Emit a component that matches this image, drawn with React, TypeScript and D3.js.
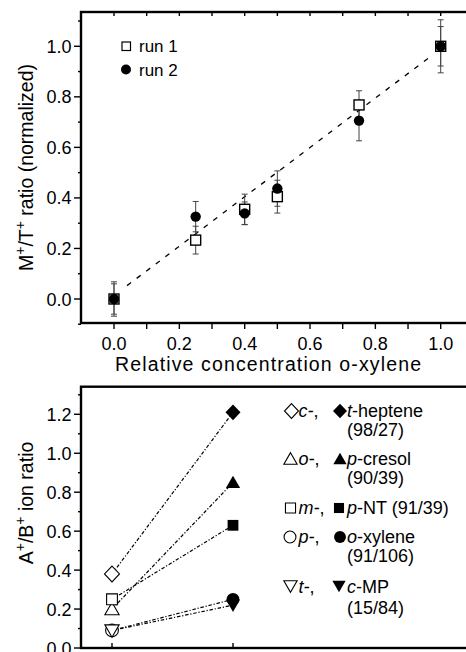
import React from "react";
import * as d3 from "d3";

// ---------- Top panel data ----------
const concX = [0, 0.25, 0.4, 0.5, 0.75, 1.0];
const run1Y = [0, 0.233, 0.355, 0.405, 0.768, 1.0];
const run1Err = [0.068, 0.055, 0.06, 0.065, 0.056, 0.078];
const run2Y = [0, 0.326, 0.339, 0.437, 0.706, 1.0];
const run2Err = [0.06, 0.06, 0.045, 0.07, 0.08, 0.105];
const fitLine = [
  { x: 0.04, y: 0.053 },
  { x: 0.965, y: 0.956 },
];
const topXTicks = [0, 0.2, 0.4, 0.6, 0.8, 1.0];
const topYTicks = [0, 0.2, 0.4, 0.6, 0.8, 1.0];

// ---------- Bottom panel data ----------
const groups = ["isomer", "target"];
const compounds = ["t-heptene", "p-cresol", "p-NT", "o-xylene", "c-MP"];
const shapes = ["diamond", "triangle", "square", "circle", "downtriangle"];
const isomerValues = [0.38, 0.2, 0.25, 0.09, 0.09];
const targetValues = [1.21, 0.85, 0.63, 0.25, 0.22];
const bottomYTicks = [0, 0.2, 0.4, 0.6, 0.8, 1.0, 1.2];
const legendPrefix = ["c", "o", "m", "p", "t"];
const legendMain = ["t", "p", "p", "o", "c"];
const legendRest = ["-heptene", "-cresol", "-NT (91/39)", "-xylene", "-MP"];
const legendSecond = ["(98/27)", "(90/39)", "", "(91/106)", "(15/84)"];

const FONT = "'Liberation Sans', Arial, Helvetica, sans-serif";

function shapePath(type: string, cx: number, cy: number, s: number): string {
  const h = s / 2;
  switch (type) {
    case "diamond":
      return `M${cx},${cy - h * 1.05}L${cx + h},${cy}L${cx},${cy + h * 1.05}L${cx - h},${cy}Z`;
    case "square":
      return `M${cx - h * 0.72},${cy - h * 0.72}h${h * 1.44}v${h * 1.44}h${-h * 1.44}Z`;
    case "triangle":
      return `M${cx},${cy - h * 0.9}L${cx + h * 0.95},${cy + h * 0.75}L${cx - h * 0.95},${cy + h * 0.75}Z`;
    case "downtriangle":
      return `M${cx},${cy + h * 0.9}L${cx + h * 0.95},${cy - h * 0.75}L${cx - h * 0.95},${cy - h * 0.75}Z`;
    default: {
      const r = h * 0.85;
      return `M${cx - r},${cy}a${r},${r} 0 1,0 ${2 * r},0a${r},${r} 0 1,0 ${-2 * r},0Z`;
    }
  }
}

export default function App() {
  // ---- Top scales ----
  const xT = d3.scaleLinear().domain([0, 1]).range([114, 440.7]);
  const yT = d3.scaleLinear().domain([0, 1]).range([299, 46.3]);
  const topFrame = { left: 81, top: 12, right: 490, bottom: 323 };
  const xMinor = d3.range(0, 11).map((i) => i / 10);
  const yMinorT = d3.range(-1, 12).map((i) => i / 10);

  const line = d3
    .line<{ x: number; y: number }>()
    .x((d) => xT(d.x))
    .y((d) => yT(d.y));

  // ---- Bottom scales ----
  const xB = d3.scalePoint<string>().domain(groups).range([112, 233]);
  const yB = d3.scaleLinear().domain([0, 1.2]).range([648, 414.3]);
  const botFrame = { left: 81, top: 386.7, right: 490, bottom: 648 };
  const yMinorB = d3.range(1, 14, 2).map((i) => i / 10);

  const legendRows = [
    { sym: 411, base: 417, base2: 436, ox: 291.5, fx: 340 },
    { sym: 459, base: 465, base2: 484, ox: 290.5, fx: 340 },
    { sym: 508, base: 514, base2: 0, ox: 290.5, fx: 339 },
    { sym: 537, base: 543, base2: 562, ox: 290, fx: 340 },
    { sym: 586, base: 593, base2: 614, ox: 290.5, fx: 339 },
  ];

  return (
    <svg
      width={466}
      height={652}
      style={{ position: "absolute", left: 0, top: 0, background: "#fff" }}
      fontFamily={FONT}
    >
      <rect x={0} y={0} width={466} height={652} fill="#fff" />
      {/* ================= TOP PANEL ================= */}
      <g>
        {/* dashed fit line */}
        <path d={line(fitLine) || ""} fill="none" stroke="#000" strokeWidth={1.3} strokeDasharray="5,7" />
        {/* error bars */}
        {concX.map((x, i) => (
          <g key={"e1" + i} stroke="#444" strokeWidth={1}>
            <line x1={xT(x)} x2={xT(x)} y1={yT(run1Y[i] - run1Err[i])} y2={yT(run1Y[i] + run1Err[i])} />
            <line x1={xT(x) - 3} x2={xT(x) + 3} y1={yT(run1Y[i] - run1Err[i])} y2={yT(run1Y[i] - run1Err[i])} />
            <line x1={xT(x) - 3} x2={xT(x) + 3} y1={yT(run1Y[i] + run1Err[i])} y2={yT(run1Y[i] + run1Err[i])} />
          </g>
        ))}
        {concX.map((x, i) => (
          <g key={"e2" + i} stroke="#444" strokeWidth={1}>
            <line x1={xT(x)} x2={xT(x)} y1={yT(run2Y[i] - run2Err[i])} y2={yT(run2Y[i] + run2Err[i])} />
            <line x1={xT(x) - 3} x2={xT(x) + 3} y1={yT(run2Y[i] - run2Err[i])} y2={yT(run2Y[i] - run2Err[i])} />
            <line x1={xT(x) - 3} x2={xT(x) + 3} y1={yT(run2Y[i] + run2Err[i])} y2={yT(run2Y[i] + run2Err[i])} />
          </g>
        ))}
        {/* run1 squares */}
        {concX.map((x, i) => (
          <rect key={"s" + i} x={xT(x) - 5} y={yT(run1Y[i]) - 5} width={10} height={10} fill="#fff" stroke="#000" strokeWidth={1.4} />
        ))}
        {/* run2 circles */}
        {concX.map((x, i) => (
          <circle key={"c" + i} cx={xT(x)} cy={yT(run2Y[i])} r={5.2} fill="#000" />
        ))}
        {/* frame */}
        <rect
          x={topFrame.left}
          y={topFrame.top}
          width={topFrame.right - topFrame.left}
          height={topFrame.bottom - topFrame.top}
          fill="none"
          stroke="#000"
          strokeWidth={2.4}
        />
        {/* bottom ticks */}
        {xMinor.map((t) => (
          <line key={"bx" + t} x1={xT(t)} x2={xT(t)} y1={topFrame.bottom} y2={topFrame.bottom + 6} stroke="#000" strokeWidth={1.4} />
        ))}
        {/* top ticks (inward) */}
        {xMinor.map((t) => (
          <line key={"tx" + t} x1={xT(t)} x2={xT(t)} y1={topFrame.top} y2={topFrame.top + 4} stroke="#000" strokeWidth={1.4} />
        ))}
        {/* left ticks */}
        {yMinorT.map((t) => {
          const major = Math.abs(Math.round(t * 10)) % 2 === 0;
          return (
            <line
              key={"ly" + t}
              x1={topFrame.left - (major ? 7 : 3)}
              x2={topFrame.left}
              y1={yT(t)}
              y2={yT(t)}
              stroke="#000"
              strokeWidth={1.4}
            />
          );
        })}
        {/* tick labels */}
        {topYTicks.map((t) => (
          <text key={"yl" + t} x={71.5} y={yT(t) + 6.5} textAnchor="end" fontSize={18} fill="#000">
            {d3.format(".1f")(t)}
          </text>
        ))}
        {topXTicks.map((t) => (
          <text key={"xl" + t} x={xT(t)} y={349.5} textAnchor="middle" fontSize={18} fill="#000">
            {d3.format(".1f")(t)}
          </text>
        ))}
        {/* axis titles */}
        <text x={268} y={371} textAnchor="middle" fontSize={19.5} fill="#000" textLength={306} lengthAdjust="spacing">
          Relative concentration o-xylene
        </text>
        <text transform="translate(33,167.5) rotate(-90)" textAnchor="middle" fontSize={19.5} fill="#000">
          M<tspan fontSize={14} dy={-8}>+</tspan>
          <tspan dy={8}>/T</tspan>
          <tspan fontSize={14} dy={-8}>+</tspan>
          <tspan dy={8}> ratio (normalized)</tspan>
        </text>
        {/* legend */}
        <rect x={122} y={42} width={8.5} height={8.5} fill="#fff" stroke="#000" strokeWidth={1.2} />
        <text x={139} y={52} fontSize={17} fill="#000">run 1</text>
        <circle cx={126} cy={69.5} r={5} fill="#000" />
        <text x={139} y={75.5} fontSize={17} fill="#000">run 2</text>
      </g>

      {/* ================= BOTTOM PANEL ================= */}
      <g>
        {/* connecting lines */}
        {compounds.map((c, i) => (
          <line
            key={"ln" + c}
            x1={xB(groups[0])!}
            y1={yB(isomerValues[i])}
            x2={xB(groups[1])!}
            y2={yB(targetValues[i])}
            stroke="#000"
            strokeWidth={1.2}
            strokeDasharray="3.5,1.8,1.2,1.8"
          />
        ))}
        {/* open markers */}
        {compounds.map((c, i) => (
          <path
            key={"om" + c}
            d={shapePath(shapes[i], xB(groups[0])!, yB(isomerValues[i]), 15)}
            fill="#fff"
            stroke="#000"
            strokeWidth={1.1}
          />
        ))}
        {/* filled markers */}
        {compounds.map((c, i) => (
          <path key={"fm" + c} d={shapePath(shapes[i], xB(groups[1])!, yB(targetValues[i]), 15)} fill="#000" />
        ))}
        {/* frame */}
        <rect
          x={botFrame.left}
          y={botFrame.top}
          width={botFrame.right - botFrame.left}
          height={botFrame.bottom - botFrame.top}
          fill="none"
          stroke="#000"
          strokeWidth={2.4}
        />
        {/* left ticks */}
        {bottomYTicks.map((t) => (
          <line key={"bm" + t} x1={botFrame.left - 7} x2={botFrame.left} y1={yB(t)} y2={yB(t)} stroke="#000" strokeWidth={1.4} />
        ))}
        {yMinorB.map((t) => (
          <line key={"bn" + t} x1={botFrame.left - 3} x2={botFrame.left} y1={yB(t)} y2={yB(t)} stroke="#000" strokeWidth={1.4} />
        ))}
        {/* bottom ticks inward */}
        {groups.map((g) => (
          <line key={"bt" + g} x1={xB(g)!} x2={xB(g)!} y1={botFrame.bottom} y2={botFrame.bottom - 5} stroke="#000" strokeWidth={1.4} />
        ))}
        {/* tick labels */}
        {bottomYTicks.map((t) => (
          <text key={"byl" + t} x={71.5} y={yB(t) + 6.5} textAnchor="end" fontSize={18} fill="#000">
            {d3.format(".1f")(t)}
          </text>
        ))}
        {/* y title */}
        <text transform="translate(33,503) rotate(-90)" textAnchor="middle" fontSize={19.5} fill="#000">
          A<tspan fontSize={14} dy={-8}>+</tspan>
          <tspan dy={8}>/B</tspan>
          <tspan fontSize={14} dy={-8}>+</tspan>
          <tspan dy={8}> ion ratio</tspan>
        </text>
        {/* legend */}
        {compounds.map((c, i) => {
          const r = legendRows[i];
          return (
            <g key={"lg" + c}>
              <path d={shapePath(shapes[i], r.ox, r.sym, 14)} fill="#fff" stroke="#000" strokeWidth={1.1} />
              <text x={298.5} y={r.base} fontSize={18} fill="#000">
                <tspan fontStyle="italic">{legendPrefix[i]}-</tspan>,
              </text>
              <path d={shapePath(shapes[i], r.fx, r.sym, 14)} fill="#000" />
              <text x={347} y={r.base} fontSize={18} fill="#000">
                <tspan fontStyle="italic">{legendMain[i]}</tspan>
                {legendRest[i]}
              </text>
              {legendSecond[i] && (
                <text x={347} y={r.base2} fontSize={18} fill="#000">
                  {legendSecond[i]}
                </text>
              )}
            </g>
          );
        })}
      </g>
    </svg>
  );
}
